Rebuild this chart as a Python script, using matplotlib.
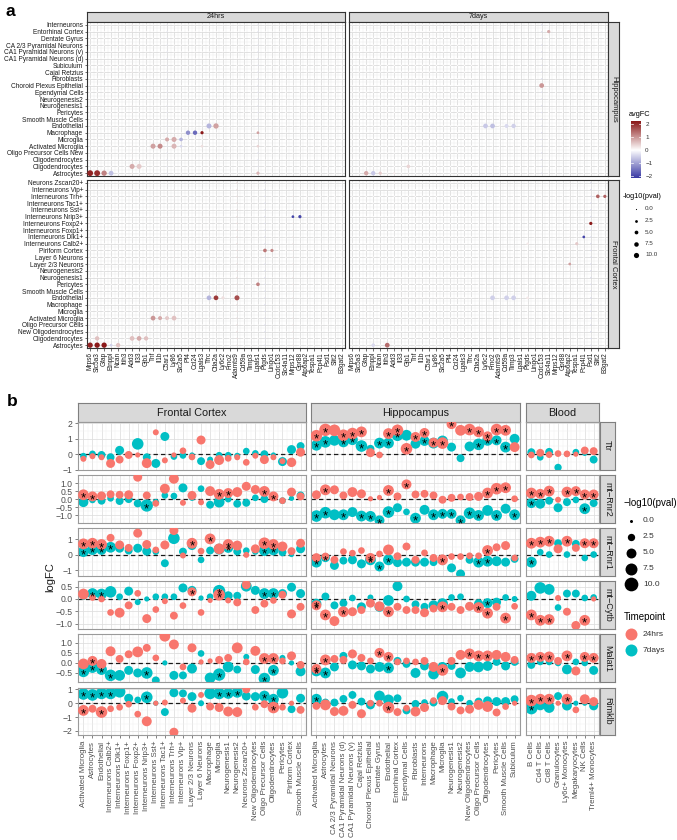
import numpy as np
import matplotlib
matplotlib.use('Agg')
import matplotlib.pyplot as plt
from matplotlib.colors import LinearSegmentedColormap, Normalize

plt.rcParams['font.family'] = ['Liberation Sans', 'DejaVu Sans']

# ---------------------------------------------------------------- panel a data
genes_a = ["Mrps6", "Slc5a3", "Gfap", "Etnppl", "Ncan", "Itih3", "Add3", "Il33", "Gjb1", "Tnf",
           "Il1b", "C5ar1", "Ly86", "Slc2a5", "Pf4", "Ccl24", "Lgals3", "Tfrc", "Ctla2a", "Ly6c2",
           "Fmo2", "Adamts9", "Cd59a", "Timp3", "Lgals1", "Ptgds", "Lingo1", "Ccdc153", "Slc4a11",
           "Mrps12", "Gpr88", "Atp6ap2", "Tespa1", "Pcp4l1", "Fsd1", "Slit2", "B3gat2"]
rows_hip_a = ["Astrocytes", "Oligodendrocytes", "Oligodendrocytes", "Oligo Precursor Cells New",
              "Activated Microglia", "Microglia", "Macrophage", "Endothelial", "Smooth Muscle Cells",
              "Pericytes", "Neurogenesis1", "Neurogenesis2", "Ependymal Cells", "Choroid Plexus Epithelial",
              "Fibroblasts", "Cajal Retzius", "Subiculum", "CA1 Pyramidal Neurons (d)",
              "CA1 Pyramidal Neurons (v)", "CA 2/3 Pyramidal Neurons", "Dentate Gyrus",
              "Entorhinal Cortex", "Interneurons"]
rows_fc_a = ["Astrocytes", "Oligodendrocytes", "New Oligodendrocytes", "Oligo Precursor Cells",
             "Activated Microglia", "Microglia", "Macrophage", "Endothelial", "Smooth Muscle Cells",
             "Pericytes", "Neurogenesis1", "Neurogenesis2", "Layer 2/3 Neurons", "Layer 6 Neurons",
             "Piriform Cortex", "Interneurons Calb2+", "Interneurons Dlk1+", "Interneurons Foxp1+",
             "Interneurons Foxp2+", "Interneurons Nrip3+", "Interneurons Sst+", "Interneurons Tac1+",
             "Interneurons Trh+", "Interneurons Vip+", "Neurons Zscan20+"]
timepoints_a = ["24hrs", "7days"]
regions_a = ["Hippocampus", "Frontal Cortex"]

# faint per-gene background tint (avgFC of non-significant cells)
tint_24_hip = [0]*6 + [0.15] + [0]*4 + [-0.2] + [0]*12 + [-0.25] + [0]*12
tint_24_fc = [0]*12 + [0.15] + [0]*8 + [0.3] + [0]*3 + [-0.3] + [0]*3 + [0.2] + [0]*7
tint_7_hip = [0]*8 + [0.1] + [0]*18 + [-0.3] + [0]*9
tint_7_fc = [0]*31 + [0.1] + [0]*2 + [-0.35] + [0]*2

# highlighted dots: timepoint, region, cell, gene, avgFC, -log10(pval)
pa_time = (["24hrs"]*22 + ["24hrs"]*22 + ["7days"]*12 + ["7days"]*13)
pa_region = (["Hippocampus"]*22 + ["Frontal Cortex"]*22 + ["Hippocampus"]*12 + ["Frontal Cortex"]*13)
pa_cell = ["Astrocytes", "Astrocytes", "Astrocytes", "Astrocytes", "Astrocytes",
           "Oligodendrocytes", "Oligodendrocytes",
           "Activated Microglia", "Activated Microglia", "Activated Microglia", "Activated Microglia",
           "Activated Microglia", "Activated Microglia",
           "Microglia", "Microglia", "Microglia",
           "Macrophage", "Macrophage", "Macrophage", "Macrophage",
           "Endothelial", "Endothelial",
           # 24hrs frontal
           "Astrocytes", "Astrocytes", "Astrocytes", "Astrocytes", "Astrocytes",
           "Oligodendrocytes", "Oligodendrocytes", "Oligodendrocytes", "Oligodendrocytes",
           "Activated Microglia", "Activated Microglia", "Activated Microglia", "Activated Microglia",
           "Endothelial", "Endothelial", "Endothelial", "Endothelial",
           "Pericytes", "Piriform Cortex", "Piriform Cortex", "Interneurons Nrip3+", "Interneurons Nrip3+",
           # 7days hippocampus
           "Astrocytes", "Astrocytes", "Astrocytes", "Astrocytes", "Oligodendrocytes",
           "Endothelial", "Endothelial", "Endothelial", "Endothelial",
           "Choroid Plexus Epithelial", "Entorhinal Cortex", "Endothelial",
           # 7days frontal
           "Astrocytes", "Astrocytes", "Endothelial", "Endothelial", "Endothelial", "Endothelial",
           "Layer 2/3 Neurons", "Interneurons Calb2+", "Interneurons Calb2+", "Interneurons Dlk1+",
           "Interneurons Foxp2+", "Interneurons Trh+", "Interneurons Trh+"]
pa_gene = ["Mrps6", "Slc5a3", "Gfap", "Etnppl", "Lgals1",
           "Add3", "Il33",
           "Tnf", "Il1b", "Ly86", "Slc2a5", "Lgals3", "Lgals1",
           "C5ar1", "Ly86", "Slc2a5",
           "Pf4", "Ccl24", "Lgals3", "Lgals1",
           "Tfrc", "Ctla2a",
           "Mrps6", "Slc5a3", "Gfap", "Etnppl", "Ncan",
           "Slc5a3", "Add3", "Il33", "Gjb1",
           "Tnf", "Il1b", "C5ar1", "Ly86",
           "Tfrc", "Ctla2a", "Ly6c2", "Adamts9",
           "Lgals1", "Ptgds", "Lingo1", "Mrps12", "Gpr88",
           "Gfap", "Etnppl", "Ncan", "Add3", "Gjb1",
           "Ly6c2", "Fmo2", "Cd59a", "Timp3",
           "Ccdc153", "Slc4a11", "Adamts9",
           "Etnppl", "Itih3", "Fmo2", "Cd59a", "Timp3", "Ptgds",
           "Atp6ap2", "Ptgds", "Tespa1", "Pcp4l1",
           "Fsd1", "Slit2", "B3gat2"]
pa_fc = [2.1, 2.0, 1.2, -0.7, 0.7,
         0.8, 0.5,
         0.9, 1.1, 0.7, -0.4, 0.3, 0.4,
         0.8, 0.8, -0.8,
         -1.2, -1.6, 2.2, 0.9,
         -0.8, 0.9,
         2.1, 2.2, 2.3, -0.5, 0.6,
         0.6, 0.6, 0.8, 0.6,
         1.0, 0.8, 0.5, 0.6,
         -0.8, 1.9, 0.3, 1.7,
         1.2, 1.3, 1.1, -2.0, -2.0,
         0.8, -0.6, 0.5, 0.2, 0.4,
         -0.6, -0.7, -0.4, -0.5,
         1.0, 0.8, 0.1,
         -0.4, 1.4, -0.5, -0.5, -0.5, 0.2,
         0.9, 0.2, 0.5, -2.0,
         2.2, 1.5, 1.5]
pa_p = [11, 11, 9, 7, 3,
        8, 8,
        8, 8, 8, 2, 2, 2,
        5, 8, 4,
        6, 6, 3, 2,
        8, 9,
        9, 9, 9, 2, 6,
        6, 7, 7, 6,
        7, 5, 5, 7,
        7, 7, 3, 8,
        4, 4, 3, 2, 3,
        6, 6, 3, 1, 4,
        7, 7, 5, 6,
        7, 3, 0.5,
        4, 7, 7, 7, 7, 2,
        2, 1.5, 3, 2,
        3, 4, 3]

# ---------------------------------------------------------------- panel b data
cats_fc = ["Activated Microglia", "Astrocytes", "Endothelial", "Interneurons Calb2+", "Interneurons Dlk1+",
           "Interneurons Foxp1+", "Interneurons Foxp2+", "Interneurons Nrip3+", "Interneurons Sst+",
           "Interneurons Tac1+", "Interneurons Trh+", "Interneurons Vip+", "Layer 2/3 Neurons",
           "Layer 6 Neurons", "Macrophage", "Microglia", "Neurogenesis1", "Neurogenesis2",
           "Neurons Zscan20+", "New Oligodendrocytes", "Oligo Precursor Cells", "Oligodendrocytes",
           "Pericytes", "Piriform Cortex", "Smooth Muscle Cells"]
cats_hip = ["Activated Microglia", "Astrocytes", "CA 2/3 Pyramidal Neurons", "CA1 Pyramidal Neurons (d)",
            "CA1 Pyramidal Neurons (v)", "Cajal Retzius", "Choroid Plexus Epithelial", "Dentate Gyrus",
            "Endothelial", "Entorhinal Cortex", "Ependymal Cells", "Fibroblasts", "Interneurons",
            "Macrophage", "Microglia", "Neurogenesis1", "Neurogenesis2", "New Oligodendrocytes",
            "Oligo Precursor Cells", "Oligodendrocytes", "Pericytes", "Smooth Muscle Cells", "Subiculum"]
cats_blood = ["B Cells", "Cd4 T Cells", "Cd8 T Cells", "Granulocytes", "Ly6c+ Monocytes",
              "Megakaryocytes", "NK Cells", "Treml4+ Monocytes"]
region_names_b = ["Frontal Cortex", "Hippocampus", "Blood"]
genes_b = ["Ttr", "mt\u2212Rnr2", "mt\u2212Rnr1", "mt\u2212Cytb", "Malat1", "Rimklb"]

# values are in order: 25 frontal cortex, 23 hippocampus, 8 blood
ttr_fc24 = [-0.3, -0.13, -0.2, -0.6, -0.35, -0.05, -0.05, -0.58, 1.42, -0.4, -0.05, 0.22, -0.18, 0.92, -0.67,
            -0.38, -0.27, -0.2, -0.53, -0.1, -0.35, -0.2, -0.45, -0.53, 0.13,
            1.2, 1.58, 1.55, 1.23, 1.34, 1.45, 0.1, -0.05, 1.34, 1.55, 0.35, 1.12, 1.38, 0.75, 0.72, 1.95,
            1.55, 1.6, 1.45, 1.16, 1.6, 1.55, 0.46,
            -0.05, 0.09, -0.03, 0.04, 0.02, 0.0, 0.24, 0.2]
ttr_p24 = [1.5, 1.5, 1.5, 4, 3, 3, 1, 5, 1.5, 1.5, 1, 2, 2, 4, 4, 5, 2, 1.5, 2, 1.5, 4, 1.5, 1.5, 4.5, 4,
           7, 8, 7, 7, 7, 6, 4, 2, 6, 7, 7, 5, 5, 5, 7, 5, 6, 7, 6, 5, 7, 6, 5,
           2, 3, 2, 2, 2, 1, 3, 3]
ttr_fc7 = [-0.13, 0.02, -0.05, -0.2, 0.25, 0.0, 0.67, -0.2, -0.6, 1.15, -0.15, -0.08, -0.05, -0.45, -0.35,
           -0.07, -0.07, -0.1, 0.2, 0.05, 0.0, -0.05, -0.48, 0.3, 0.53,
           0.58, 0.8, 0.9, 0.8, 0.94, 0.53, 0.35, 0.72, 0.72, 1.23, 1.23, 0.68, 0.86, 0.72, 0.86, 0.46,
           -0.26, 0.5, 0.64, 0.9, 0.9, 0.46, 1.0,
           0.13, -0.2, 0.15, -0.86, 0.0, 0.13, 0.05, -0.35]
ttr_p7 = [2, 2, 3, 3, 4, 1, 7, 3, 4, 4, 2, 2, 1, 3, 1.5, 2, 2, 1.5, 2, 2, 3, 1, 4, 4, 3,
          6, 7, 6, 6, 6, 7, 3, 6, 6, 7, 6, 5, 5, 6, 6, 4, 3, 5, 7, 6, 5, 6, 5,
          3, 2, 3, 2.5, 1, 2, 1, 3]
ttr_star24 = [25, 26, 28, 29, 30, 33, 34, 35, 36, 37, 39, 40, 42, 43, 44, 45, 46]
ttr_star7 = [25, 26, 28, 29, 30, 32, 33, 34, 37, 38, 43, 44, 45, 46]

rnr2_fc24 = [0.27, 0.17, 0.2, 0.3, 0.27, 0.27, 1.37, 0.23, -0.27, 0.65, 1.27, -0.23, 0.23, -0.2, 0.5, 0.3,
             0.38, 0.44, 0.8, 0.6, 0.48, 0.17, -0.1, 0.44, 0.17,
             0.27, 0.58, 0.58, 0.23, 0.44, 0.33, 0.02, 0.1, 0.54, 0.17, 0.92, 0.29, 0.33, 0.23, -0.04, 0.08,
             0.13, 0.13, 0.17, 0.38, 0.65, 0.71, 0.02,
             0.38, 0.33, 0.5, -0.04, 0.44, 0.5, 0.29, 0.29]
rnr2_p24 = [6, 5, 4, 3, 3, 4, 4, 3, 2, 5, 5, 1.5, 4, 1.5, 5, 6, 5, 5, 4, 4, 6, 5, 2, 4, 3,
            4, 6, 4, 3, 5, 4, 1, 1, 6, 3, 5, 3, 3, 3, 3, 3, 2, 3, 4, 6, 7, 6, 2,
            6, 5, 6, 1.5, 6, 5, 5, 5]
rnr2_fc7 = [-0.19, -0.05, -0.1, 0.05, -0.12, 0.0, -0.27, -0.4, -0.2, 0.23, 0.19, 0.7, 0.1, 0.65, -0.35,
            -0.19, 0.0, -0.29, -0.23, 0.08, 0.0, 0.1, -0.1, 0.05, 0.23,
            -1.06, -0.85, -0.98, -0.98, -0.81, -1.06, -1.08, -1.33, -0.81, -0.54, -0.8, -1.19, -0.67, -0.98,
            -0.92, -0.92, -1.33, -0.88, -1.02, -0.71, -1.02, -0.6, -0.98,
            -0.25, -0.29, -0.1, -0.54, -0.19, -0.05, -0.6, -0.25]
rnr2_p7 = [5, 2, 3, 2, 3, 3, 3, 8, 2, 2, 2, 4, 2, 2, 3, 6, 2, 3, 3, 2, 3, 2, 2, 1, 3,
           7, 7, 6, 6, 5, 6, 6, 5, 7, 4, 2, 6, 5, 6, 5, 5, 5, 7, 6, 6, 6, 5, 6,
           5, 5, 3, 4, 3, 2, 6, 3]
rnr2_star24 = [0, 1, 15, 16, 20, 21, 26, 33, 35, 44, 45, 46, 48, 49, 50, 52, 53, 54, 55]
rnr2_star7 = [7, 25, 26, 28, 30, 31, 32, 33, 36, 38, 39, 40, 41, 42, 43, 45, 47, 48, 54]

rnr1_fc24 = [0.69, 0.73, 0.65, 1.08, 0.62, 0.43, 1.38, 0.65, 0.3, 0.62, 1.55, -0.06, 0.73, 0.22, 1.01, 0.37,
             0.65, 0.58, -0.02, 0.37, 0.73, 0.65, 0.52, 0.22, 0.73,
             -0.2, -0.13, -0.34, 0.19, 0.09, 0.26, -0.22, 0.04, 0.3, -0.11, 0.52, -0.34, 0.11, -0.22, -0.34,
             -0.13, -0.13, -0.08, -0.08, 0.26, 0.47, 0.58, -0.22,
             0.73, 0.8, 0.86, 0.37, 0.86, 0.43, 0.73, 0.73]
rnr1_p24 = [6, 6, 6, 3, 4, 3, 4, 4, 2, 4, 4, 1.5, 6, 2, 6, 6, 6, 5, 1.5, 4, 7, 6, 5, 3, 4,
            4, 3, 3, 2, 2, 2, 5, 2, 6, 3, 3, 3, 2, 3, 6, 2, 2, 2, 2, 6, 3, 4, 2,
            6, 6, 6, 4, 6, 3, 5, 5]
rnr1_fc7 = [0.19, 0.32, 0.3, 0.47, 0.41, 0.26, 0.41, 0.22, 0.19, -0.56, 1.05, 0.19, 0.58, -0.34, 0.26, 0.35,
            0.43, 0.2, 0.25, 0.2, 0.26, 0.3, 0.15, 0.0, 0.37,
            -0.49, -0.2, -0.7, -0.39, -0.34, -0.6, -0.34, -0.77, -0.34, -0.52, -0.49, -0.49, -0.49, -0.49,
            -0.43, -0.86, -1.25, -0.34, -0.49, -0.43, -0.43, -0.49, -0.28,
            -0.49, 0.15, 0.0, 0.73, 0.0, 0.69, -0.22, 0.0]
rnr1_p7 = [6, 6, 5, 6, 4, 3, 4, 4, 2, 3, 7, 3, 4, 2, 3, 6, 5, 3, 2, 2, 6, 6, 3, 1, 4,
           6, 4, 4, 3, 4, 4, 6, 5, 6, 4, 4, 4, 4, 3, 3, 4, 4, 3, 6, 6, 5, 4, 3,
           6, 2, 2, 3, 2, 3, 2, 2]
rnr1_star24 = [0, 1, 2, 12, 14, 16, 20, 21, 31, 39, 44, 48, 49, 50, 52, 54, 55]
rnr1_star7 = [0, 1, 2, 3, 16, 20, 21, 25, 26, 31, 32, 33, 43, 44, 48]

cytb_fc24 = [0.2, 0.06, 0.0, -0.55, -0.56, -0.26, 0.23, -0.8, -0.43, -0.09, -0.68, -0.27, 0.29, -0.55, -0.06,
             0.17, -0.06, -0.14, 0.58, -0.45, -0.19, -0.06, 0.17, -0.61, -0.32,
             -0.26, -0.65, -0.9, -0.52, -0.52, -0.45, -0.17, -0.3, -0.52, -0.32, -0.45, -0.45, -0.56, -0.39,
             -0.32, -0.32, -0.45, -0.3, -0.35, -0.58, -0.32, -0.78, -0.3,
             -0.65, -0.87, -0.84, 0.04, -0.52, -1.08, -0.87, 0.0]
cytb_p24 = [6, 2, 2, 2, 5, 3, 2, 4, 2, 1.5, 3, 2, 4, 2, 1, 7, 1.5, 3, 4, 3, 3, 2, 3, 4, 3,
            5, 6, 5, 6, 4, 3, 4, 5, 6, 3, 3, 3, 4, 3, 6, 3, 3, 4, 6, 6, 3, 6, 2,
            6, 6, 6, 1.5, 3, 4, 6, 1]
cytb_fc7 = [0.1, 0.22, 0.2, 0.29, 0.09, 0.32, -0.13, 0.0, 0.09, 0.09, 0.09, 0.45, 0.35, 0.04, 0.09, 0.32, 0.13,
            0.13, 0.52, 0.35, 0.22, 0.22, 0.22, 0.48, 0.22,
            -0.19, 0.1, -0.26, -0.17, 0.04, -0.32, 0.06, -0.32, -0.06, 0.52, 0.0, -0.22, -0.32, -0.26, -0.19,
            0.06, 0.09, -0.3, -0.19, -0.17, -0.13, 0.06, 0.0,
            0.13, 0.45, 0.39, -0.35, 0.22, 0.22, 0.04, 0.06]
cytb_p7 = [2, 6, 6, 7, 2, 4, 1.5, 1, 2, 2, 2, 4, 4, 1, 2, 8, 4, 3, 6, 4, 6, 6, 4, 4, 4,
           5, 3, 3, 3, 2, 4, 1.5, 5, 6, 5, 2, 3, 3, 5, 6, 2, 2, 3, 4, 5, 4, 2, 1.5,
           5, 7, 6, 2, 3, 3, 2, 2]
cytb_star24 = [12, 15, 25, 26, 28, 33, 39, 43, 44, 46, 48, 49, 50, 54]
cytb_star7 = [1, 2, 15, 20, 21, 25, 44]

malat1_fc24 = [-0.05, 0.1, -0.05, 0.58, 0.2, 0.43, 0.55, 0.75, 0.25, 1.33, 0.92, -0.2, 0.75, 0.05, 0.1, 0.15,
               0.25, 0.75, 0.05, 0.6, 0.22, 0.22, 0.1, 0.35, -0.1,
               -0.3, 0.15, 0.2, 0.15, 0.45, 0.25, 0.1, 0.5, 0.3, 0.05, 0.1, 0.05, 0.1, -0.2, -0.35, 0.1, 0.4,
               0.45, 0.35, 0.35, 0.4, 0.3, 0.15,
               0.25, 0.3, 0.3, 0.1, 0.35, -0.4, 0.3, 0.25]
malat1_p24 = [6, 5, 5, 5, 3, 3, 6, 3, 2, 6, 5, 2, 4, 1, 1, 3, 3, 6, 2, 5, 6, 6, 2, 4, 3,
              5, 6, 3, 3, 4, 3, 2, 5, 5, 2, 2, 2, 3, 5, 7, 3, 5, 6, 6, 6, 5, 5, 3,
              5, 5, 6, 3, 6, 4, 5, 5]
malat1_fc7 = [-0.42, -0.23, -0.33, -0.62, -0.62, -0.37, -0.5, -0.5, -0.87, 0.0, -0.62, -0.62, -0.28, 0.47, -0.75,
              -0.58, -0.2, -0.33, 0.3, -0.33, -0.78, -0.37, 0.25, 0.0, -0.42,
              -0.4, -0.5, -0.2, 0.35, -0.1, -0.15, -0.3, -0.2, -0.25, 0.1, -0.05, -0.5, -0.15, -0.55, -0.2,
              -0.15, -0.5, -0.2, -0.2, -0.15, 0.05, -0.15, 0.05,
              -0.1, 0.05, 0.05, 0.0, -0.32, 0.05, 0.0, -0.37]
malat1_p7 = [7, 6, 6, 7, 6, 4, 4, 7, 3, 1, 4, 3, 5, 2, 6, 8, 6, 3, 1.5, 4, 7, 6, 1.5, 1, 5,
             6, 6, 4, 3, 4, 4, 4, 5, 6, 3, 3, 5, 4, 6, 5, 3, 6, 5, 6, 5, 3, 4, 3,
             3, 2, 2, 2, 5, 2, 2, 4]
malat1_star24 = [1, 20, 21, 25, 26, 32, 33, 39, 42, 43, 44, 48, 49, 50, 52, 54, 55]
malat1_star7 = [0, 1, 2, 3, 7, 15, 20, 21, 25, 26, 33]

rimklb_fc24 = [-0.52, -0.4, -0.64, -0.4, -0.29, -0.07, -0.79, -1.31, 0.0, 0.05, -2.1, 0.19, -0.36, 0.6, -0.24,
               -0.31, -0.6, -0.64, 1.0, -0.29, -0.07, -0.31, -0.29, 0.0, -0.48,
               -0.19, -0.12, -0.6, -0.55, -0.12, -0.76, 0.0, 0.0, -0.31, -0.64, -0.36, -0.6, -0.31, 0.19, 0.19,
               -0.24, -0.52, -0.43, -0.12, -0.24, -0.67, -0.24, 0.0,
               0.19, 0.29, 0.29, 0.0, 0.29, -0.48, 0.29, 0.12]
rimklb_p24 = [6, 3, 7, 2, 2, 2, 2, 5, 1, 1.5, 4, 1.5, 4, 1.5, 3, 4, 5, 5, 3, 2, 3, 7, 2, 1, 3,
              3, 6, 4, 5, 3, 4, 2, 2, 7, 3, 2, 5, 4, 2, 4, 3, 3, 4, 5, 6, 3, 2, 1,
              7, 6, 6, 1, 6, 2, 5, 4]
rimklb_fc7 = [0.67, 0.6, 0.71, 0.71, 0.83, 0.36, 0.24, 0.43, 0.0, -0.64, 0.76, 0.71, 0.48, 0.0, 0.71, 0.71,
              0.71, 0.79, 0.52, 0.48, 0.52, 0.29, 0.76, -0.43, 0.36,
              0.29, 0.05, 0.05, 0.31, 0.6, 0.12, -0.12, 0.52, 0.24, 0.36, -0.52, -0.05, 0.05, 0.05, 0.48,
              0.12, 0.36, 0.0, 0.12, 0.17, 0.12, 0.12, 0.29,
              -0.36, -0.12, -0.31, 0.52, -0.17, 0.0, 0.0, -0.19]
rimklb_p7 = [7, 7, 7, 7, 7, 4, 2, 7, 1, 3, 4, 3, 4, 1.5, 7, 7, 6, 6, 4, 4, 6, 6, 7, 3, 4,
             6, 3, 3, 3, 3, 3, 4, 6, 6, 3, 3, 3, 2, 3, 7, 2, 2, 2, 3, 4, 4, 4, 3,
             8, 6, 6, 3, 5, 1, 1, 4]
rimklb_star24 = [0, 2, 21, 33, 48, 49, 50, 52]
rimklb_star7 = [0, 1, 2, 3, 7, 15, 16, 17, 20, 21, 25, 48]

series_b = [
    (ttr_fc24, ttr_p24, ttr_star24, ttr_fc7, ttr_p7, ttr_star7),
    (rnr2_fc24, rnr2_p24, rnr2_star24, rnr2_fc7, rnr2_p7, rnr2_star7),
    (rnr1_fc24, rnr1_p24, rnr1_star24, rnr1_fc7, rnr1_p7, rnr1_star7),
    (cytb_fc24, cytb_p24, cytb_star24, cytb_fc7, cytb_p7, cytb_star7),
    (malat1_fc24, malat1_p24, malat1_star24, malat1_fc7, malat1_p7, malat1_star7),
    (rimklb_fc24, rimklb_p24, rimklb_star24, rimklb_fc7, rimklb_p7, rimklb_star7),
]
ylims_b = [(-1.0, 2.09), (-1.475, 1.5), (-1.37, 1.70), (-1.22, 0.72), (-0.95, 1.42), (-2.31, 1.14)]
yticks_b = [[-1, 0, 1, 2], [-1, -0.5, 0, 0.5, 1], [-1, 0, 1], [-1, -0.5, 0, 0.5], [-0.5, 0, 0.5, 1],
            [-2, -1, 0, 1]]
ytick_dec_b = [0, 1, 0, 1, 1, 0]

# ---------------------------------------------------------------- drawing
W, H = 677, 840
fig = plt.figure(figsize=(W / 100, H / 100), dpi=100)

def axpx(x0, y0, x1, y1):
    return fig.add_axes([x0 / W, 1 - y1 / H, (x1 - x0) / W, (y1 - y0) / H])

def strip(x0, y0, x1, y1, text, rot=0, fs=6, ec='#333333', lw=0.8, fc='#D9D9D9', col='#1A1A1A'):
    ax = axpx(x0, y0, x1, y1)
    ax.set_xlim(0, 1); ax.set_ylim(0, 1)
    ax.set_xticks([]); ax.set_yticks([])
    ax.set_facecolor(fc)
    for s in ax.spines.values():
        s.set_color(ec); s.set_linewidth(lw)
    ax.text(0.5, 0.5, text, rotation=rot, ha='center', va='center', fontsize=fs, color=col)
    return ax

cmap_a = LinearSegmentedColormap.from_list('fc', ['#3434A2', '#FFFFFF', '#8C1A1A'])
norm_a = Normalize(-2.2, 2.2)

def size_a(v):
    d = np.sqrt(1.5 + 3.0 * np.asarray(v, float))
    return (d * 0.72) ** 2

def size_b(v):
    d = np.sqrt(9 + 17.9 * np.asarray(v, float))
    return (d * 0.72) ** 2

fig.text(5 / W, 1 - 12 / H, 'a', fontsize=12.5, fontweight='bold', va='center', ha='left')
fig.text(7 / W, 1 - 401 / H, 'b', fontsize=12.5, fontweight='bold', va='center', ha='left')

xcols_a = {"24hrs": (87, 345), "7days": (349, 608)}
yrows_a = {"Hippocampus": (22, 176), "Frontal Cortex": (180, 348)}
rowlists_a = {"Hippocampus": rows_hip_a, "Frontal Cortex": rows_fc_a}
tints_a = {("24hrs", "Hippocampus"): tint_24_hip, ("24hrs", "Frontal Cortex"): tint_24_fc,
           ("7days", "Hippocampus"): tint_7_hip, ("7days", "Frontal Cortex"): tint_7_fc}

ng = len(genes_a)
for t in timepoints_a:
    x0, x1 = xcols_a[t]
    strip(x0, 12, x1, 22, t, fs=5.2)
    for r in regions_a:
        y0, y1 = yrows_a[r]
        rows = rowlists_a[r]
        nr = len(rows)
        ax = axpx(x0, y0, x1, y1)
        ax.set_xlim(-0.45, ng - 0.55)
        ax.set_ylim(-0.42, nr - 0.58)
        for k in range(ng):
            ax.axvline(k, color='#D9D9D9', lw=0.55, zorder=0)
            if k < ng - 1:
                ax.axvline(k + 0.5, color='#ECECEC', lw=0.35, zorder=0)
        for k in range(nr):
            ax.axhline(k, color='#D9D9D9', lw=0.55, zorder=0)
            if k < nr - 1:
                ax.axhline(k + 0.5, color='#ECECEC', lw=0.35, zorder=0)
        gx, gy = np.meshgrid(np.arange(ng), np.arange(nr))
        tint = np.tile(np.asarray(tints_a[(t, r)], float), (nr, 1))
        ax.scatter(gx.ravel(), gy.ravel(), c=tint.ravel(), cmap=cmap_a, norm=norm_a,
                   s=size_a(0) * 1.3, linewidths=0, zorder=2)
        idx = [i for i in range(len(pa_fc)) if pa_time[i] == t and pa_region[i] == r]
        xs = [genes_a.index(pa_gene[i]) for i in idx]
        ys = [rows.index(pa_cell[i]) for i in idx]
        ax.scatter(xs, ys, c=[pa_fc[i] for i in idx], cmap=cmap_a, norm=norm_a,
                   s=size_a([pa_p[i] for i in idx]), linewidths=0, zorder=3)
        for s in ax.spines.values():
            s.set_color('#333333'); s.set_linewidth(0.8)
        ax.tick_params(length=1.8, width=0.5, color='#333333', pad=1)
        if t == "24hrs":
            ax.set_yticks(range(nr))
            ax.set_yticklabels(rows, fontsize=4.7, color='#1A1A1A')
        else:
            ax.set_yticks([])
        if r == "Frontal Cortex":
            ax.set_xticks(range(ng))
            ax.set_xticklabels(genes_a, rotation=90, fontsize=4.7, color='#1A1A1A')
        else:
            ax.set_xticks([])
        if t == "7days":
            strip(608, y0, 619, y1, r, rot=-90, fs=5.5)

# panel a legends
fig.text(629 / W, 1 - 114 / H, 'avgFC', fontsize=5.3, va='center', ha='left')
cax = axpx(631, 121, 641, 178)
grad = np.linspace(2.23, -2.15, 200).reshape(-1, 1)
cax.imshow(grad, aspect='auto', cmap=cmap_a, norm=norm_a, extent=(0, 1, -2.15, 2.23))
cax.set_xticks([])
cax.yaxis.tick_right()
cax.set_yticks([-2, -1, 0, 1, 2])
cax.set_yticklabels(['\u22122', '\u22121', '0', '1', '2'], fontsize=4.5, color='#333333')
cax.tick_params(axis='y', length=0, pad=3)
for v in [-2, -1, 0, 1, 2]:
    cax.plot([0, 0.2], [v, v], color='white', lw=0.5)
    cax.plot([0.8, 1], [v, v], color='white', lw=0.5)
for s in cax.spines.values():
    s.set_visible(False)

lax = axpx(600, 185, 677, 265)
lax.set_xlim(600, 677); lax.set_ylim(265, 185)
lax.axis('off')
lax.text(623, 197, '-log10(pval)', fontsize=5.3, va='center', ha='left')
for v, yy in zip([0, 2.5, 5, 7.5, 10], [209, 220.5, 232, 243.5, 255]):
    lax.scatter([636], [yy], s=size_a(v) * 0.85, color='black', linewidths=0)
    lax.text(645, yy, '%.1f' % v, fontsize=4.5, va='center', ha='left', color='#333333')

# panel b
xcols_b = [(78, 306), (311, 520), (526, 599)]
cats_b = [cats_fc, cats_hip, cats_blood]
offsets_b = [0, 25, 48]
row_top0, row_h, row_step = 422, 47.6, 53.1
red, cyan = '#F8766D', '#00BFC4'

for ri, (x0, x1) in enumerate(xcols_b):
    strip(x0, 403, x1, 422, region_names_b[ri], fs=7.8, ec='#7F7F7F', lw=0.8)

for gi, gname in enumerate(genes_b):
    fc24, p24, st24, fc7, p7, st7 = series_b[gi]
    y0 = row_top0 + gi * row_step
    y1 = y0 + row_h
    strip(600, y0, 615, y1, gname, rot=-90, fs=6.5, ec='#7F7F7F', lw=0.8)
    for ri, (x0, x1) in enumerate(xcols_b):
        cats = cats_b[ri]
        n = len(cats)
        off = offsets_b[ri]
        ax = axpx(x0, y0, x1, y1)
        ax.set_xlim(-0.6, n - 0.4)
        ax.set_ylim(*ylims_b[gi])
        ticks = yticks_b[gi]
        step = ticks[1] - ticks[0]
        for k in range(n):
            ax.axvline(k, color='#DEDEDE', lw=0.55, zorder=0)
            ax.axvline(k + 0.5, color='#EFEFEF', lw=0.35, zorder=0)
        for tv in ticks:
            ax.axhline(tv, color='#DEDEDE', lw=0.55, zorder=0)
        for tv in np.arange(ticks[0] - step / 2, ticks[-1] + step, step):
            ax.axhline(tv, color='#EFEFEF', lw=0.35, zorder=0)
        ax.axhline(0, color='#1A1A1A', lw=0.9, ls=(0, (3.5, 2.5)), zorder=1)
        xs = np.arange(n)
        v7 = np.asarray(fc7[off:off + n]); s7 = size_b(p7[off:off + n])
        v24 = np.asarray(fc24[off:off + n]); s24 = size_b(p24[off:off + n])
        ax.scatter(xs, v7, s=s7, color=cyan, linewidths=0, zorder=2)
        ax.scatter(xs, v24, s=s24, color=red, linewidths=0, zorder=3)
        for stars, vals in ((st24, fc24), (st7, fc7)):
            for i in stars:
                if off <= i < off + n:
                    ax.annotate('*', (i - off, vals[i]), xytext=(0, -2.6), textcoords='offset points',
                                ha='center', va='center', fontsize=9.5, color='black', zorder=5)
        for s in ax.spines.values():
            s.set_color('#9A9A9A'); s.set_linewidth(0.8)
        ax.tick_params(length=2.5, width=0.5, color='#4D4D4D', pad=1.5)
        if ri == 0:
            ax.set_yticks(ticks)
            fmt = '%.1f' if ytick_dec_b[gi] else '%d'
            ax.set_yticklabels([(fmt % v).replace('-', '\u2212') for v in ticks], fontsize=6.2,
                               color='#4D4D4D')
        else:
            ax.set_yticks([])
        if gi == len(genes_b) - 1:
            ax.set_xticks(xs)
            ax.set_xticklabels(cats, rotation=90, fontsize=5.7, color='#4D4D4D')
        else:
            ax.set_xticks([])

fig.text(50 / W, 1 - 577 / H, 'logFC', rotation=90, fontsize=8, va='center', ha='center', color='#1A1A1A')

lbx = axpx(615, 490, 677, 665)
lbx.set_xlim(615, 677); lbx.set_ylim(665, 490)
lbx.axis('off')
lbx.text(624, 503, '\u2212log10(pval)', fontsize=7, va='center', ha='left')
for v, yy in zip([0, 2.5, 5, 7.5, 10], [521, 537, 553, 568.5, 584]):
    lbx.scatter([631], [yy], s=size_b(v), color='black', linewidths=0)
    lbx.text(643, yy, '%.1f' % v, fontsize=6, va='center', ha='left', color='#333333')
lbx.text(624, 617, 'Timepoint', fontsize=7, va='center', ha='left')
lbx.scatter([631], [634], s=size_b(7.5), color=red, linewidths=0)
lbx.text(643, 634, '24hrs', fontsize=6, va='center', ha='left', color='#333333')
lbx.scatter([631], [650], s=size_b(7.5), color=cyan, linewidths=0)
lbx.text(643, 650, '7days', fontsize=6, va='center', ha='left', color='#333333')

fig.savefig('out.png', dpi=100)
